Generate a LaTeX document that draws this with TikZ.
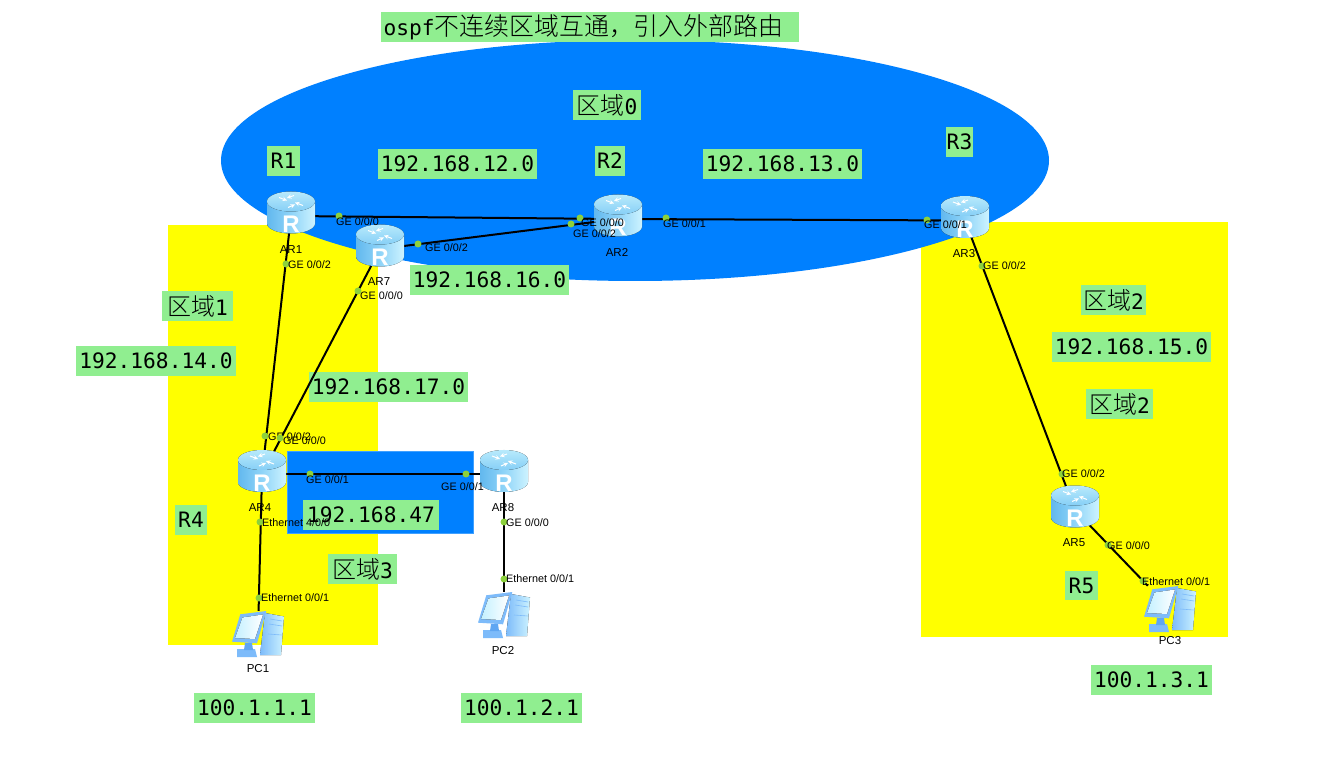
\documentclass[tikz,border=0pt]{standalone}
\usepackage{fontspec}
\setmainfont{Liberation Sans}
\newfontfamily\monof{DejaVu Sans Mono}
\newfontfamily\cjkf{Noto Sans CJK SC}[UprightFont=* Light]
\definecolor{lgreen}{HTML}{90EE90}
\definecolor{zblue}{HTML}{0080FF}
\definecolor{zyellow}{HTML}{FFFF00}
\definecolor{portc}{HTML}{8CD13C}
\definecolor{rleft}{HTML}{62B8EE}
\definecolor{rmid}{HTML}{8FD4F8}
\definecolor{rright}{HTML}{CDF3FF}
\definecolor{rtop}{HTML}{B8EAFC}
\definecolor{rtopb}{HTML}{86CFF6}
\definecolor{pcframe}{HTML}{7DBBFA}
\definecolor{pcdark}{HTML}{5FA6F2}
\definecolor{pcscreen}{HTML}{C4F1FF}
\definecolor{pctower}{HTML}{A9DCFF}
\newcommand{\glabel}[6]{\node[lab,minimum width={(#4-#2)*1pt},minimum height={(#5-#3)*1pt}] (#1) at ({(#2+#4)/2},{(#3+#5)/2}) {#6};}
\newcommand{\zh}[1]{{\cjkf\fontsize{24}{24}\selectfont #1}}
\newcommand{\port}[6]{\node[portdot] (#1) at (#2,#3) {}; \node[portlab] (#1t) at (#4,#5) {#6};}
\tikzset{
  lab/.style={fill=lgreen,inner sep=0pt,font=\monof\fontsize{21.2}{24}\selectfont},
  devnode/.style={minimum width=36pt,minimum height=30pt,inner sep=0pt},
  pcnode/.style={minimum width=50pt,minimum height=46pt,inner sep=0pt},
  portdot/.style={circle,fill=portc,minimum size=7pt,inner sep=0pt},
  portlab/.style={anchor=west,inner sep=0pt,font=\fontsize{10.8}{12}\selectfont},
  devlab/.style={inner sep=0pt,font=\fontsize{11.5}{12}\selectfont},
  link/.style={draw=black,line width=2pt},
  routericon/.pic={
    \fill[left color=rleft,right color=rright,middle color=rmid]
      (-24,-11) -- (-24,11) .. controls (-24,16.5) and (-13,21) .. (0,21)
      .. controls (13,21) and (24,16.5) .. (24,11) -- (24,-11) -- cycle;
    \fill[top color=rtop,bottom color=rtopb] (0,-11) ellipse [x radius=24,y radius=10];
    \draw[white,line width=1pt,-stealth] (-12,-15) -- (-4,-12);
    \draw[white,line width=1pt,-stealth] (3,-17) -- (-4,-14.5) ;
    \draw[white,line width=1pt,-stealth] (12,-7) -- (4,-10);
    \draw[white,line width=1pt,-stealth] (-3,-5) -- (4,-8);
    \node[white,inner sep=0pt,font=\bfseries\fontsize{24}{24}\selectfont] at (0,12) {R};
  },
  pcicon/.pic={
    \fill[left color=pcframe,right color=rright] (7,-21) -- (26,-17.5) -- (23,21) -- (2,21) -- cycle;
    \draw[pcframe,line width=.6pt] (12,-15) -- (24,-13) (11,-10) -- (24,-8) (10,0) -- (23.5,1);
    \fill[pcframe] (-21,15) -- (-3,15) -- (-1,23) -- (-21,23) -- cycle;
    \fill[pcdark] (-13,9) -- (-6,9) -- (-5,16) -- (-14,16) -- cycle;
    \fill[pcframe] (-17.7,-19.7) -- (8.3,-23) -- (-1,9.3) -- (-26,7.7) -- cycle;
    \fill[left color=pcscreen,right color=white] (-15.5,-16.5) -- (5,-19.5) -- (-3,5) -- (-23,4) -- cycle;
  }
}
\begin{document}
\begin{tikzpicture}[x=1pt,y=-1pt]
\useasboundingbox (0,0) rectangle (1334,775);
\fill[white] (0,0) rectangle (1334,775);
% areas
\fill[zyellow] (168,225) rectangle (378,645);
\fill[zyellow] (921,222) rectangle (1228,637);
\fill[zblue] (635,160.5) ellipse [x radius=414,y radius=120.5];
\draw[zblue!75!white,fill=zblue,line width=.6pt] (287,451) rectangle (473,533);
% labels
\glabel{title}{381}{12}{799}{42}{{\fontsize{21.2}{24}\selectfont ospf}\zh{\fontsize{24.9}{25}\selectfont 不连续区域互通，引入外部路由}\hspace*{13pt}}
\glabel{z0}{573}{90}{641}{120}{\zh{区域}0}
\glabel{r1}{267}{146}{300}{176}{R1}
\glabel{n12}{378}{149}{537}{179}{192.168.12.0}
\glabel{r2}{595}{146}{625}{176}{R2}
\glabel{n13}{703}{149}{862}{179}{192.168.13.0}
\glabel{r3}{946}{127}{973}{157}{R3}
\glabel{n16}{410}{265}{569}{295}{192.168.16.0}
\glabel{z1}{162}{291}{233}{321}{\zh{区域}1}
\glabel{n14}{76}{346}{236}{376}{192.168.14.0}
\glabel{n17}{309}{372}{468}{402}{192.168.17.0}
\glabel{z2a}{1081}{285}{1146}{315}{\zh{区域}2}
\glabel{n15}{1052}{332}{1211}{362}{192.168.15.0}
\glabel{z2b}{1086}{389}{1153}{419}{\zh{区域}2}
\glabel{n47}{303}{500}{439}{530}{192.168.47}
\glabel{r4}{175}{505}{207}{535}{R4}
\glabel{z3}{328}{554}{397}{584}{\zh{区域}3}
\glabel{r5}{1065}{571}{1098}{600}{R5}
\glabel{h1}{194}{693}{315}{723}{100.1.1.1}
\glabel{h2}{461}{693}{582}{723}{100.1.2.1}
\glabel{h3}{1091}{665}{1212}{695}{100.1.3.1}
% device anchors
\node[devnode] (AR1) at (291,216) {};
\node[devnode] (AR7) at (380,249) {};
\node[devnode] (AR2) at (618,219) {};
\node[devnode] (AR3) at (965,220.5) {};
\node[devnode] (AR4) at (262,474.5) {};
\node[devnode] (AR8) at (504,474.5) {};
\node[devnode] (AR5) at (1075,510) {};
\node[pcnode] (PC1) at (258,634) {};
\node[pcnode] (PC2) at (504,615) {};
\node[pcnode] (PC3) at (1170,609) {};
% connectors
\draw[link] (AR1) -- (AR2);
\draw[link] (AR7) -- (AR2);
\draw[link] (AR2) -- (AR3);
\draw[link] (AR1) -- (AR4);
\draw[link] (AR7) -- (AR4);
\draw[link] (AR4) -- (AR8);
\draw[link] (AR3) -- (AR5);
\draw[link] (AR5) -- (PC3);
\draw[link] (AR4) -- (PC1);
\draw[link] (AR8) -- (PC2);
% icons
\foreach \p in {AR1,AR7,AR2,AR3,AR4,AR8,AR5} {\pic at ([yshift=3.5pt]\p.center) {routericon};}
\foreach \p in {PC1,PC2,PC3} {\pic at (\p.center) {pcicon};}
% ports
\port{p1}{339}{216}{336}{222}{GE 0/0/0}
\port{p2}{286}{264}{288}{265}{GE 0/0/2}
\port{p3}{418}{244}{425}{248}{GE 0/0/2}
\port{p4}{358}{291}{360}{296}{GE 0/0/0}
\port{p5}{580}{218}{581}{223}{GE 0/0/0}
\port{p6}{571}{224}{573}{234}{GE 0/0/2}
\port{p7}{666}{218}{663}{224}{GE 0/0/1}
\port{p8}{927}{220}{924}{225}{GE 0/0/1}
\port{p9}{982}{266}{983}{266}{GE 0/0/2}
\port{p10}{265}{436}{268}{437}{GE 0/0/2}
\port{p11}{280}{438}{283}{441}{GE 0/0/0}
\port{p12}{310}{474}{306}{480}{GE 0/0/1}
\port{p13}{466}{474}{441}{487}{GE 0/0/1}
\port{p14}{260}{522}{262}{523}{Ethernet 4/0/0}
\port{p15}{259}{598}{261}{598}{Ethernet 0/0/1}
\port{p16}{504}{522}{506}{523}{GE 0/0/0}
\port{p17}{504}{579}{506}{579}{Ethernet 0/0/1}
\port{p18}{1062}{474}{1062}{474}{GE 0/0/2}
\port{p19}{1108}{545}{1107}{546}{GE 0/0/0}
\port{p20}{1143}{581}{1142}{582}{Ethernet 0/0/1}
% device names
\node[devlab] (lAR1) at (291,250) {AR1};
\node[devlab] (lAR7) at (379,282) {AR7};
\node[devlab] (lAR2) at (617,252) {AR2};
\node[devlab] (lAR3) at (964,254) {AR3};
\node[devlab] (lAR4) at (260,508) {AR4};
\node[devlab] (lAR8) at (503,508) {AR8};
\node[devlab] (lAR5) at (1074,543) {AR5};
\node[devlab] (lPC1) at (258,669) {PC1};
\node[devlab] (lPC2) at (503,651) {PC2};
\node[devlab] (lPC3) at (1170,641) {PC3};
\end{tikzpicture}
\end{document}
